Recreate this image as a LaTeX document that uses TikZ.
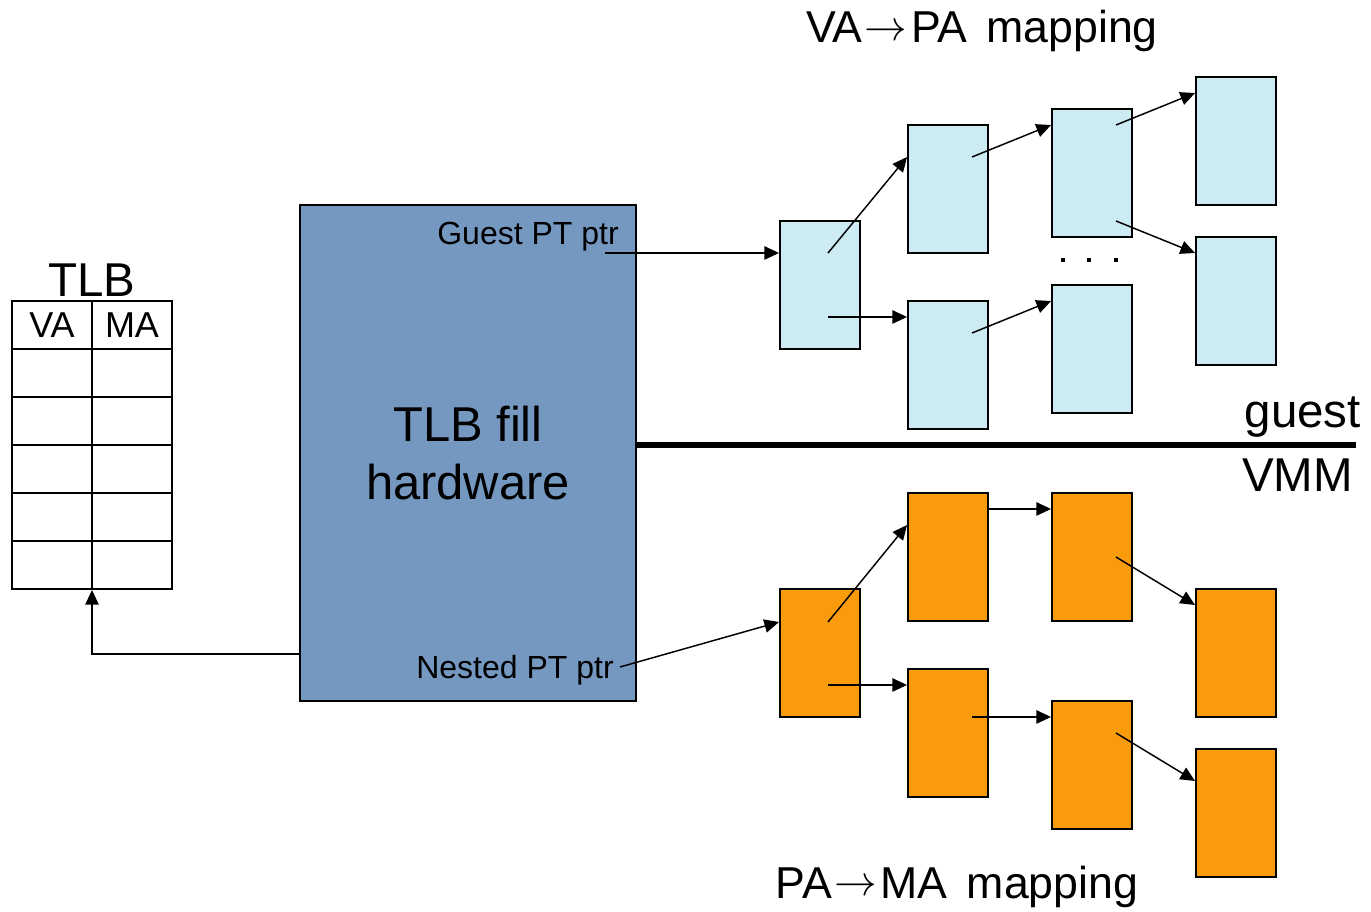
\documentclass[tikz,border=0pt]{standalone}
\usepackage{fontspec}
\setmainfont{Liberation Sans}
\newcommand{\maparr}{\hspace{1.5pt}\raisebox{1.8pt}{\resizebox{32pt}{!}{$\rightarrow$}}\hspace{3pt}}
\usetikzlibrary{arrows.meta,calc}
\definecolor{hwblue}{RGB}{117,152,193}
\definecolor{ptblue}{RGB}{204,235,242}
\definecolor{ptorange}{RGB}{250,155,14}
\begin{document}
\begin{tikzpicture}[x=0.75pt,y=-0.75pt,
  ptbox/.style={draw=black, line width=1.4pt, minimum width=60pt, minimum height=96pt, inner sep=0pt},
  gpt/.style={ptbox, fill=ptblue},
  npt/.style={ptbox, fill=ptorange},
  arr/.style={-{Triangle[length=11pt,width=10pt]}, line width=1.1pt},
  big/.style={inner sep=0pt, font=\fontsize{33.5pt}{40pt}\selectfont},
  mid/.style={inner sep=0pt, font=\fontsize{35.6pt}{42pt}\selectfont},
  small/.style={inner sep=0pt, font=\fontsize{24pt}{28pt}\selectfont},
  cell/.style={inner sep=0pt, font=\fontsize{27pt}{32pt}\selectfont}
]
\useasboundingbox (0,0) rectangle (1371,912);

% TLB table
\node[draw, line width=1.4pt, minimum width=120pt, minimum height=216pt, inner sep=0pt] (tlb) at (92,445) {};
\draw[line width=1.4pt] (tlb.north) -- (tlb.south);
\foreach \y in {349,397,445,493,541}{
  \draw[line width=1.4pt] (tlb.west |- 0,\y) -- (tlb.east |- 0,\y);
}
\node[mid, anchor=base] (tlblbl) at (92,297) {TLB};
\node[cell, anchor=base] (va) at (52,338) {VA};
\node[cell, anchor=base] (ma) at (132,338) {MA};

% TLB fill hardware
\node[draw=black, line width=1.4pt, fill=hwblue, minimum width=252pt, minimum height=372pt,
      inner sep=0pt, align=center, font=\fontsize{36.7pt}{43.5pt}\selectfont] (hw) at (468,453) {TLB fill\\hardware};
\node[small, anchor=base east] (gptr) at (619,245) {Guest PT ptr};
\node[small, anchor=base east] (nptr) at (614,678) {Nested PT ptr};
\coordinate (gstart) at (605,253);
\coordinate (nstart) at (620,667);

% guest / VMM separator
\coordinate (sepend) at (1356,445);
\draw[line width=4.5pt] (hw.east |- sepend) -- (sepend);
\node[mid, anchor=base east] (guestlbl) at (1361,428) {guest};
\node[mid, anchor=base east] (vmmlbl) at (1353,492) {VMM};

% titles
\node[big, anchor=base] (vapa) at (982,43) {VA\maparr PA\hspace{5pt} mapping};
\node[big, anchor=base] (pama) at (957,898) {PA\maparr MA\hspace{5pt} mapping};

% guest page tables
\node[gpt] (g1) at (820,285) {};
\node[gpt] (g2) at (948,189) {};
\node[gpt] (g3) at (948,365) {};
\node[gpt] (g4) at (1092,173) {};
\node[gpt] (g5) at (1092,349) {};
\node[gpt] (g6) at (1236,141) {};
\node[gpt] (g7) at (1236,301) {};
\foreach \x in {1063,1089,1116}{ \fill (\x-2,258) rectangle (\x+2,262); }

% nested page tables
\node[npt] (o1) at (820,653) {};
\node[npt] (o2) at (948,557) {};
\node[npt] (o3) at (948,733) {};
\node[npt] (o4) at (1092,557) {};
\node[npt] (o5) at (1092,765) {};
\node[npt] (o6) at (1236,653) {};
\node[npt] (o7) at (1236,813) {};

% connectors
\draw[arr] ($(hw.south west)+(0,-48)$) -| (tlb.south);
\draw[arr] (gstart) -- (gstart -| g1.west);
\draw[arr] (nstart) -- ($(o1.west)+(0,-31)$);

\draw[arr] ($(g1.center)+(8,-32)$) -- ($(g2.west)+(0,-32)$);
\draw[arr] ($(g1.center)+(8,32)$) -- ($(g3.west)+(0,-48)$);
\draw[arr] ($(g2.center)+(24,-32)$) -- ($(g4.west)+(0,-48)$);
\draw[arr] ($(g3.center)+(24,-32)$) -- ($(g5.west)+(0,-48)$);
\draw[arr] ($(g4.center)+(24,-48)$) -- ($(g6.west)+(0,-48)$);
\draw[arr] ($(g4.center)+(24,48)$) -- ($(g7.west)+(0,-48)$);

\draw[arr] ($(o1.center)+(8,-31)$) -- ($(o2.west)+(0,-32)$);
\draw[arr] ($(o1.center)+(8,32)$) -- ($(o3.west)+(0,-48)$);
\draw[arr] ($(o2.east)+(0,-48)$) -- ($(o4.west)+(0,-48)$);
\draw[arr] ($(o3.center)+(24,-16)$) -- ($(o5.west)+(0,-48)$);
\draw[arr] ($(o4.center)+(24,0)$) -- ($(o6.west)+(0,-48)$);
\draw[arr] ($(o5.center)+(24,-32)$) -- ($(o7.west)+(0,-32)$);
\end{tikzpicture}
\end{document}
